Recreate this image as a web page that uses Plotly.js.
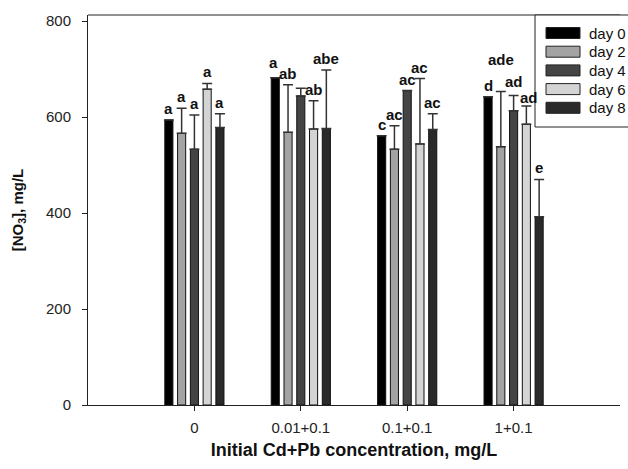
<!DOCTYPE html>
<html>
<head>
<meta charset="utf-8">
<script src="https://cdn.plot.ly/plotly-3.0.1.min.js"></script>
<style>html,body{margin:0;padding:0;background:#fff;}#chart{width:628px;height:469px;}</style>
</head>
<body>
<div id="chart"></div>
<script>
var categories = ["0", "0.01+0.1", "0.1+0.1", "1+0.1"];
var seriesNames = ["day 0", "day 2", "day 4", "day 6", "day 8"];
var day0 = [594, 682, 561, 642];
var day2 = [566, 568, 533, 538];
var day4 = [533, 644, 655, 613];
var day6 = [658, 575, 544, 585];
var day8 = [578, 576, 574, 392];
var err0 = [null, null, null, null];
var err2 = [52, 99, 49, 115];
var err4 = [71, 16, null, 32];
var err6 = [12, 59, 136, 38];
var err8 = [29, 122, 33, 78];
var lab0 = ["a", "a", "c", "d"];
var lab2 = ["a", "ab", "ac", "ade"];
var lab4 = ["a", "", "ac", "ad"];
var lab6 = ["a", "ab", "ac", "ad"];
var lab8 = ["a", "abe", "ac", "e"];

var values = [day0, day2, day4, day6, day8];
var errors = [err0, err2, err4, err6, err8];
var labels = [lab0, lab2, lab4, lab6, lab8];
var colors = ["#000000", "#a3a3a3", "#444444", "#d4d4d4", "#2a2a2a"];
var FONT = "Arial, 'Liberation Sans', sans-serif";

var xpos = categories.map(function(c, i){ return i; });
var slot = 0.12;

var traces = values.map(function(v, s){
  return {
    type: "bar",
    name: seriesNames[s],
    x: xpos,
    y: v,
    width: 0.076,
    offset: (s - 2) * slot - 0.038,
    marker: {color: colors[s], line: {color: "#111", width: 1}},
    error_y: {type: "data", symmetric: false, array: errors[s],
      arrayminus: errors[s].map(function(){ return 0; }),
      color: "#333", thickness: 1.5, width: 5, visible: true},
    showlegend: false,
    hoverinfo: "skip"
  };
});

var annotations = [];
labels.forEach(function(labs, s){
  labs.forEach(function(t, g){
    if (!t) return;
    var top = values[s][g] + (errors[s][g] || 0);
    var ys = 1, xs = 0;
    if (t === "ade") ys = 22;
    if (g === 3 && s === 3) { ys = -2; xs = 3; }
    if (g === 3 && s === 2) { ys = 3; }
    if (g === 1 && s === 0) { ys = 5; xs = -2; }
    annotations.push({
      x: g + (s - 2) * slot, y: top, xref: "x", yref: "y",
      text: "<b>" + t + "</b>", showarrow: false,
      yanchor: "bottom", yshift: ys, xshift: xs,
      font: {family: FONT, size: 15, color: "#111"}
    });
  });
});

// legend (custom, drawn in paper pixels)
var shapes = [
  {type: "line", xref: "paper", yref: "paper", x0: 0, x1: 1, y0: 1, y1: 1,
   line: {color: "#222", width: 1}}
];
var W = 532, H = 390; // plot area size in px
function px(xp){ return xp / W; }
function py(yp){ return 1 - yp / H; }
var lx0 = 447, ly0 = 0, lx1 = 545, ly1 = 112;
shapes.push({type: "rect", xref: "paper", yref: "paper", layer: "above",
  x0: px(lx0), x1: px(lx1), y0: py(ly1), y1: py(ly0),
  fillcolor: "#fff", line: {color: "#222", width: 1}});
seriesNames.forEach(function(n, s){
  var yc = 18 + s * 18.7;
  shapes.push({type: "rect", xref: "paper", yref: "paper", layer: "above",
    x0: px(458), x1: px(492), y0: py(yc + 5.5), y1: py(yc - 5.5),
    fillcolor: colors[s], line: {color: "#222", width: 1}});
  annotations.push({xref: "paper", yref: "paper", x: px(499), y: py(yc),
    xanchor: "left", yanchor: "middle", text: n, showarrow: false,
    font: {family: FONT, size: 15, color: "#111"}});
});

var layout = {
  width: 628, height: 469,
  margin: {l: 88, r: 8, t: 15, b: 64, pad: 0},
  paper_bgcolor: "#fff", plot_bgcolor: "#fff",
  barmode: "overlay",
  showlegend: false,
  font: {family: FONT, color: "#111"},
  xaxis: {
    range: [-1, 4], tickvals: xpos, ticktext: categories,
    showgrid: false, zeroline: false, showline: true, linecolor: "#222", linewidth: 1,
    ticks: "outside", ticklen: 5, tickcolor: "#222", ticklabelstandoff: 4,
    tickfont: {family: FONT, size: 15, color: "#222"},
    title: {text: "<b>Initial Cd+Pb concentration, mg/L</b>", standoff: 8,
      font: {family: FONT, size: 18, color: "#111"}}
  },
  yaxis: {
    range: [0, 812.5], tickvals: [0, 200, 400, 600, 800],
    showgrid: false, zeroline: false, showline: true, linecolor: "#222", linewidth: 1,
    ticks: "outside", ticklen: 5, tickcolor: "#222", ticklabelstandoff: 8,
    tickfont: {family: FONT, size: 15, color: "#222"},
    title: {text: "<b>[NO<sub>3</sub>], mg/L</b>", standoff: 18,
      font: {family: FONT, size: 15, color: "#111"}}
  },
  shapes: shapes,
  annotations: annotations
};

Plotly.newPlot("chart", traces, layout, {displayModeBar: false, staticPlot: true});
</script>
</body>
</html>
